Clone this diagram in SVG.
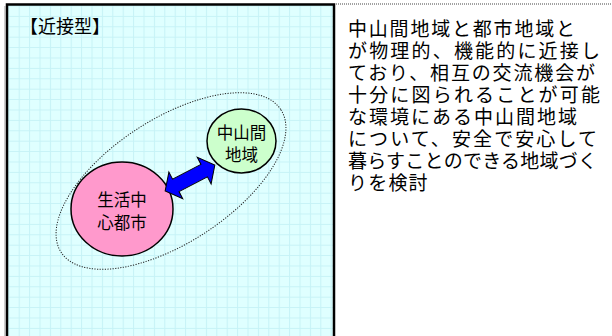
<svg xmlns="http://www.w3.org/2000/svg" width="612" height="336" viewBox="0 0 612 336">
  <style>
    .jp { font-family: "Liberation Sans", "Noto Sans CJK JP", sans-serif; fill: #000; }
    .node { stroke: #000; stroke-width: 1.5; }
    .lbl { font-size: 16.5px; text-anchor: middle; }
    .body { font-size: 19px; }
  </style>
  <defs>
    <pattern id="grid" x="8.3" y="5.5" width="10.4" height="10.4" patternUnits="userSpaceOnUse">
      <rect width="10.4" height="10.4" fill="#DFFFFF"/>
      <path d="M0 0.5 H10.4 M0.5 0 V10.4" stroke="#C6F2F6" stroke-width="1" fill="none"/>
    </pattern>
  </defs>
  <rect width="612" height="336" fill="#FFFFFF"/>
  <line x1="336" y1="4" x2="612" y2="4" stroke="#444" stroke-width="1" stroke-dasharray="1 1"/>
  <g id="panel">
    <rect x="7" y="4.5" width="327" height="340" fill="url(#grid)" stroke="#000" stroke-width="2.5"/>
    <line x1="5" y1="6" x2="5" y2="336" stroke="#999" stroke-width="1"/>
    <text class="jp" x="20" y="33" style="font-size:18px">【近接型】</text>
  </g>
  <g id="area">
    <ellipse cx="171" cy="181" rx="131" ry="62" transform="rotate(-33 171 181)" fill="none" stroke="#222" stroke-width="1" stroke-dasharray="1.2 1.4"/>
  </g>
  <g id="city">
    <ellipse class="node" cx="122" cy="209" rx="51" ry="47" fill="#FF99CC"/>
    <text class="jp lbl" x="122" y="206">生活中</text>
    <text class="jp lbl" x="122" y="229">心都市</text>
  </g>
  <g id="mountain">
    <ellipse class="node" cx="241.5" cy="141" rx="34.5" ry="32" fill="#CCFFCC"/>
    <text class="jp lbl" x="241.5" y="139">中山間</text>
    <text class="jp lbl" x="241.5" y="161">地域</text>
  </g>
  <g id="connectors">
    <path d="M-28,0 L-16,-15 L-16,-7 L16,-7 L16,-15 L28,0 L16,15 L16,7 L-16,7 L-16,15 Z" transform="translate(190,178) rotate(-27.5)" fill="#0000FF" stroke="#000" stroke-width="1"/>
  </g>
  <g id="description">
    <text class="jp body" x="348" y="36" textLength="227" lengthAdjust="spacing">中山間地域と都市地域と</text>
    <text class="jp body" x="348" y="58" textLength="252" lengthAdjust="spacing">が物理的、機能的に近接し</text>
    <text class="jp body" x="348" y="80" textLength="247" lengthAdjust="spacing">ており、相互の交流機会が</text>
    <text class="jp body" x="348" y="102" textLength="252" lengthAdjust="spacing">十分に図られることが可能</text>
    <text class="jp body" x="348" y="124" textLength="229" lengthAdjust="spacing">な環境にある中山間地域</text>
    <text class="jp body" x="348" y="146" textLength="249" lengthAdjust="spacing">について、安全で安心して</text>
    <text class="jp body" x="348" y="168" textLength="249" lengthAdjust="spacing">暮らすことのできる地域づく</text>
    <text class="jp body" x="348" y="190" letter-spacing="1.2">りを検討</text>
  </g>
</svg>
